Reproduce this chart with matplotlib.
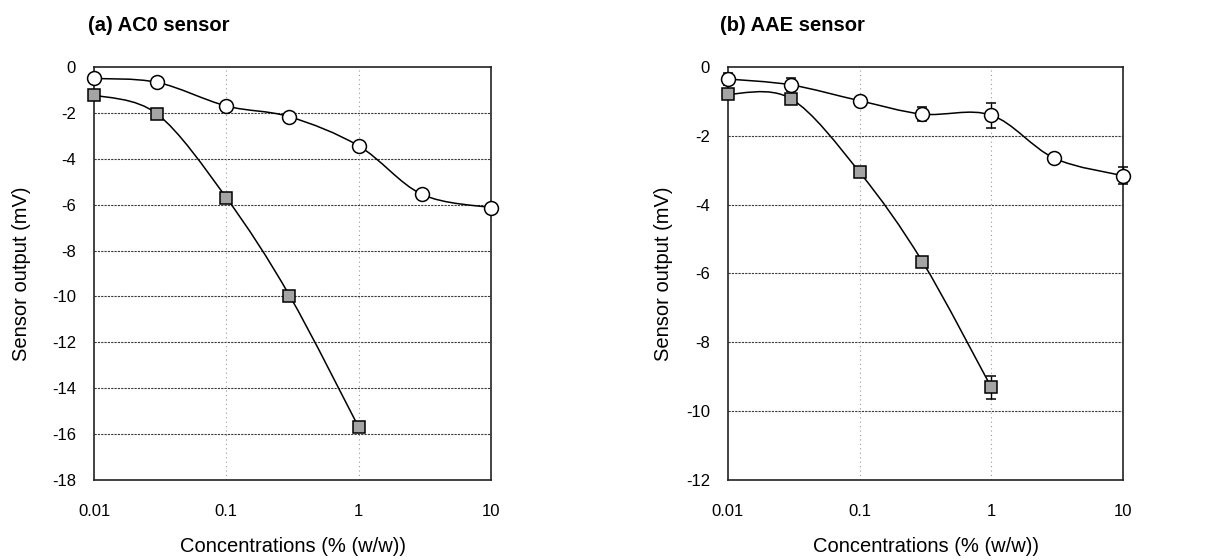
import numpy as np
import matplotlib
matplotlib.use("Agg")
import matplotlib.pyplot as plt
from matplotlib.path import Path
from matplotlib.patches import PathPatch
from matplotlib.ticker import FixedLocator, FixedFormatter, NullLocator

plt.rcParams['font.family'] = ['Liberation Sans', 'DejaVu Sans']
plt.rcParams['axes.unicode_minus'] = False

# concentrations (% w/w)
conc = [0.01, 0.03, 0.1, 0.3, 1, 3, 10]
conc_sq = [0.01, 0.03, 0.1, 0.3, 1]

# (a) AC0 sensor
ac0_circle = [-0.5, -0.67, -1.7, -2.17, -3.44, -5.55, -6.13]
ac0_square = [-1.22, -2.05, -5.7, -9.96, -15.7]

# (b) AAE sensor
aae_circle = [-0.35, -0.52, -0.98, -1.37, -1.4, -2.65, -3.16]
aae_circle_err = [0.18, 0.19, 0.1, 0.2, 0.36, 0.1, 0.25]
aae_square = [-0.79, -0.92, -3.06, -5.66, -9.31]
aae_square_err = [0.1, 0.1, 0.1, 0.15, 0.34]

xticks = [0.01, 0.1, 1, 10]
xticklabels = ['0.01', '0.1', '1', '10']


def smooth_path(xs, ys):
    # excel-like smoothed line: bezier segments computed in log-x space
    pts = np.column_stack([np.log10(xs), ys])
    n = len(pts)
    verts = [pts[0]]
    codes = [Path.MOVETO]
    for i in range(n - 1):
        p0 = pts[i - 1] if i > 0 else pts[i]
        p1 = pts[i]
        p2 = pts[i + 1]
        p3 = pts[i + 2] if i + 2 < n else pts[i + 1]
        verts += [p1 + (p2 - p0) / 6.0, p2 - (p3 - p1) / 6.0, p2]
        codes += [Path.CURVE4] * 3
    verts = np.array(verts)
    verts[:, 0] = 10 ** verts[:, 0]
    return Path(verts, codes)


def draw_panel(ax, title_x, title, ymin, ylab_x, circ, sq, circ_err=None, sq_err=None):
    ax.set_xscale('log')
    ax.set_xlim(0.01, 10)
    ax.set_ylim(ymin, 0)

    for ys, xs in [(circ, conc), (sq, conc_sq)]:
        ax.add_patch(PathPatch(smooth_path(xs, ys), fill=False, lw=1.1,
                               edgecolor='black', zorder=3))

    ax.errorbar(conc_sq, sq, yerr=sq_err, fmt='s', ms=8.3, mfc='#a4a4a4',
                mec='black', mew=1.1, ecolor='black', elinewidth=1.0,
                capsize=3.5, zorder=4, clip_on=False)
    ax.errorbar(conc, circ, yerr=circ_err, fmt='o', ms=10, mfc='white',
                mec='black', mew=1.1, ecolor='black', elinewidth=1.0,
                capsize=3.5, zorder=5, clip_on=False)

    ax.xaxis.set_major_locator(FixedLocator(xticks))
    ax.xaxis.set_major_formatter(FixedFormatter(xticklabels))
    ax.xaxis.set_minor_locator(NullLocator())
    ax.set_yticks(np.arange(ymin, 1, 2))
    ax.tick_params(axis='both', length=0, labelsize=12)
    ax.tick_params(axis='x', pad=17)
    ax.tick_params(axis='y', pad=13)

    for yv in np.arange(ymin + 2, 0, 2):
        ax.axhline(yv, color='#3a3a3a', lw=0.8, ls=(0, (2, 1)), zorder=1)
    for xv in [0.1, 1]:
        ax.axvline(xv, color='#999999', lw=0.8, ls=(0, (1, 3)), zorder=1)

    for s in ax.spines.values():
        s.set_linewidth(1.2)
        s.set_color('#222222')

    ax.set_xlabel('Concentrations (% (w/w))', fontsize=14.5, labelpad=13)
    ax.set_ylabel('Sensor output (mV)', fontsize=14.5)
    ax.yaxis.set_label_coords(ylab_x, 0.5)
    ax.figure.text(title_x, 0.955, title, fontsize=14.5, fontweight='bold',
                   ha='left', va='center')


fig = plt.figure(figsize=(12.26, 5.6), dpi=100)
ax1 = fig.add_axes([0.0767, 0.1429, 0.3238, 0.7375])
ax2 = fig.add_axes([0.5938, 0.1429, 0.3222, 0.7375])

draw_panel(ax1, 0.0718, '(a) AC0 sensor', -18, -0.159, ac0_circle, ac0_square)
draw_panel(ax2, 0.587, '(b) AAE sensor', -12, -0.139, aae_circle, aae_square,
           aae_circle_err, aae_square_err)

fig.savefig('out.png', dpi=100)
